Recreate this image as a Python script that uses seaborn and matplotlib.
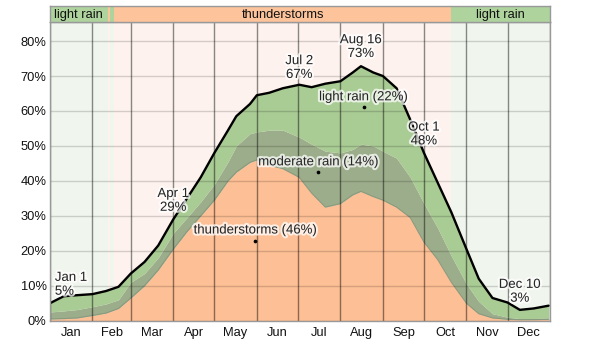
import numpy as np
import pandas as pd
import matplotlib
matplotlib.use("Agg")
import matplotlib.pyplot as plt
import matplotlib.patheffects as pe
import seaborn as sns

# ---------------- data ----------------
days = [0, 10, 20, 31, 41, 50, 59, 69, 79, 90, 100, 110, 120, 130, 136, 146, 151, 160,
        170, 182, 191, 201, 212, 221, 227, 236, 243, 253, 263, 273, 283, 293, 304,
        313, 323, 334, 343, 353, 364]
# top of the "any precipitation" stack (black line), %
total_rain = [5.0, 7.0, 7.3, 7.6, 8.5, 9.7, 13.5, 16.8, 21.5, 29.0, 35.0, 41.0, 48.0,
              54.5, 58.5, 62.0, 64.5, 65.2, 66.5, 67.5, 66.8, 67.8, 68.5, 71.0, 72.8, 71.0,
              70.0, 66.5, 57.5, 48.0, 39.5, 31.0, 20.5, 12.0, 6.5, 5.2, 3.1, 3.5, 4.3]
# top of thunderstorms + moderate rain, %
storm_plus_moderate = [2.5, 2.8, 3.2, 4.0, 4.8, 6.0, 11.0, 13.5, 18.0, 25.0, 29.5, 34.0,
                       39.0, 45.5, 50.0, 53.5, 54.0, 54.5, 54.5, 52.5, 50.5, 48.5, 48.0, 49.0,
                       50.5, 50.0, 48.5, 46.5, 41.0, 33.5, 26.5, 18.5, 10.5, 5.5, 2.0,
                       1.0, 0.6, 0.6, 0.8]
# thunderstorms, %
thunderstorms = [0.5, 0.6, 0.8, 1.5, 2.2, 3.5, 6.5, 10.0, 14.5, 20.5, 25.5, 30.0, 34.5,
                 40.0, 42.5, 45.3, 46.0, 44.5, 43.5, 41.0, 36.5, 32.5, 33.5, 36.0, 37.0, 35.5,
                 34.5, 32.5, 29.5, 22.5, 17.5, 11.0, 5.0, 2.0, 0.8, 0.4, 0.3, 0.3, 0.4]

month_names = ["Jan", "Feb", "Mar", "Apr", "May", "Jun", "Jul", "Aug", "Sep", "Oct", "Nov", "Dec"]
month_starts = [0, 31, 59, 90, 120, 151, 181, 212, 243, 273, 304, 334, 365]

season_start = [0, 42, 44, 47, 293]
season_end = [42, 44, 47, 293, 365]
season_kind = ["light rain", "thunderstorms", "light rain", "thunderstorms", "light rain"]

mark_days = [0, 90, 182, 227, 273, 343]
mark_vals = [5, 29, 67, 73, 48, 3]
mark_text = ["Jan 1\n5%", "Apr 1\n29%", "Jul 2\n67%", "Aug 16\n73%", "Oct 1\n48%", "Dec 10\n3%"]

cat_labels = ["thunderstorms (46%)", "moderate rain (14%)", "light rain (22%)"]
cat_days = [150, 196, 229]
cat_vals = [22.9, 42.4, 61.0]

yticks = [0, 10, 20, 30, 40, 50, 60, 70, 80]

# ---------------- style ----------------
sns.set_theme(style="white")
plt.rcParams["font.family"] = ["Liberation Sans", "DejaVu Sans"]
plt.rcParams["font.size"] = 9.3

C_ORANGE = "#fdbf95"
C_GRAY = "#9cad8b"
C_GREEN = "#a9cb94"
PALE = {"light rain": "#f0f6ee", "thunderstorms": "#fdf2ed"}
STRONG = {"light rain": "#aed39d", "thunderstorms": "#fdc39b"}

df = pd.DataFrame({"day": days, "total": total_rain,
                   "mid": storm_plus_moderate, "storm": thunderstorms})

W, H = 600, 344
fig = plt.figure(figsize=(W / 100, H / 100), dpi=100)
ax = fig.add_axes([50 / W, (H - 320.7) / H, 500 / W, (320.7 - 22) / H])
hax = fig.add_axes([50 / W, (H - 22) / H, 500 / W, 16 / H])

# season backgrounds
for s, e, k in zip(season_start, season_end, season_kind):
    ax.axvspan(s, e, color=PALE[k], lw=0, zorder=0)
    hax.axvspan(s, e, color=STRONG[k], lw=0, zorder=0)

# stacked areas
ax.fill_between(df["day"], 0, df["storm"], color=C_ORANGE, lw=0, zorder=1)
ax.fill_between(df["day"], df["storm"], df["mid"], color=C_GRAY, lw=0, zorder=1)
ax.fill_between(df["day"], df["mid"], df["total"], color=C_GREEN, lw=0, zorder=1)
ax.plot(df["day"], df["storm"], color="#8a9a7e", lw=0.8, zorder=1.5)

sns.lineplot(data=df, x="day", y="total", color="black", lw=1.7, ax=ax, zorder=5)

# axes / grid
ax.set_xlim(0, 365)
ax.set_ylim(0, 85.45)
ax.set_yticks(yticks)
ax.set_yticklabels([f"{v}%" for v in yticks])
mids = [(a + b) / 2 for a, b in zip(month_starts[:-1], month_starts[1:])]
ax.set_xticks(mids)
ax.set_xticklabels(month_names)
ax.set_xticks(month_starts, minor=True)
ax.set_xlabel("")
ax.set_ylabel("")
ax.tick_params(axis="both", which="both", length=0, labelsize=9.3, colors="#111111")
ax.tick_params(axis="y", pad=2.5)
ax.tick_params(axis="x", pad=4.5)
ax.set_axisbelow(False)
ax.grid(False)
ax.grid(True, axis="y", which="major", color="black", alpha=0.16, lw=1)
ax.grid(True, axis="x", which="minor", color="black", alpha=0.45, lw=1)
for sp in ax.spines.values():
    sp.set_color("#999999")
    sp.set_linewidth(1)
    sp.set_zorder(6)

halo = [pe.withStroke(linewidth=3, foreground="white", alpha=0.75)]

# point labels
for i, (d, v, t) in enumerate(zip(mark_days, mark_vals, mark_text)):
    ha = "left" if i == 0 else "center"
    dx = 3.5 if i == 0 else 0
    ax.annotate(t, (d, v), xytext=(dx, 4), textcoords="offset points",
                ha=ha, va="bottom", fontsize=9.5, linespacing=1.2,
                path_effects=halo, zorder=7, multialignment=ha)

# category labels
ax.scatter(cat_days, cat_vals, s=7, color="black", zorder=7, linewidths=0)
for d, v, t in zip(cat_days, cat_vals, cat_labels):
    ax.annotate(t, (d, v), xytext=(0, 3), textcoords="offset points",
                ha="center", va="bottom", fontsize=9.5, path_effects=halo, zorder=7)

# header band
hax.set_xlim(0, 365)
hax.set_ylim(0, 1)
hax.set_xticks([])
hax.set_yticks([])
for s, e, k in zip(season_start, season_end, season_kind):
    if e - s > 20:
        hax.text((s + e) / 2, 0.45, k, ha="center", va="center", fontsize=9.3, color="#111111")
for sp in hax.spines.values():
    sp.set_color("#999999")
    sp.set_linewidth(1)

fig.savefig("out.png", dpi=100)
